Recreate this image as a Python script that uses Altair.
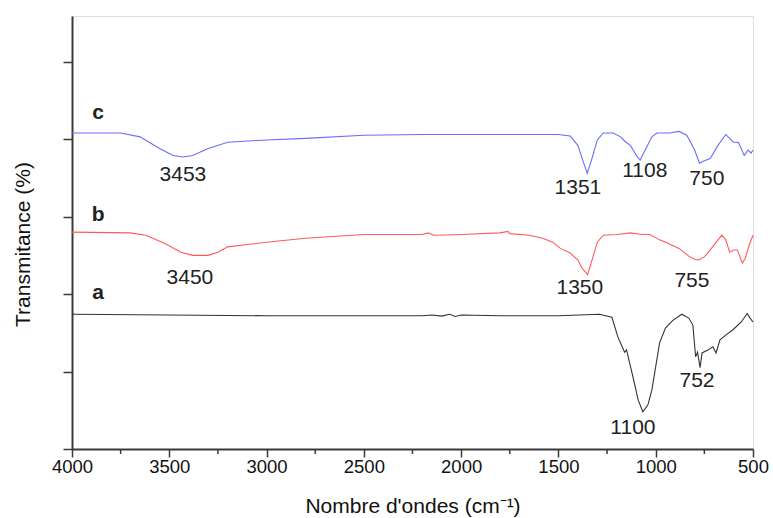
import altair as alt
import pandas as pd

# Spectrum a (black)
wn_a = [4000, 3500, 3000, 2500, 2200, 2150, 2100, 2060, 2030, 2000, 1800, 1500, 1290, 1225, 1195, 1160, 1150,
        1117, 1090, 1066, 1040, 1020, 980, 950, 912, 866, 830, 809, 795, 785, 772, 762, 730, 706, 690,
        670, 640, 603, 560, 530, 515, 500]
t_a = [1.74, 1.73, 1.72, 1.72, 1.72, 1.73, 1.715, 1.74, 1.71, 1.73, 1.72, 1.72, 1.74, 1.70, 1.45, 1.25, 1.28,
       0.93, 0.63, 0.48, 0.57, 0.76, 1.37, 1.56, 1.66, 1.74, 1.69, 1.60, 1.19, 1.25, 1.05, 1.24, 1.28, 1.32, 1.24,
       1.41, 1.47, 1.54, 1.64, 1.75, 1.69, 1.64]

# Spectrum b (red)
wn_b = [4000, 3700, 3620, 3520, 3440, 3380, 3300, 3250, 3200, 3000, 2800, 2500, 2200, 2170, 2140, 2000,
        1800, 1760, 1750, 1650, 1580, 1530, 1490, 1440, 1400, 1380, 1350, 1320, 1300, 1270, 1200, 1130,
        1070, 1030, 980, 940, 880, 830, 800, 780, 750, 720, 680, 660, 640, 620, 600, 580, 555, 540, 520, 500]
t_b = [2.80, 2.79, 2.76, 2.65, 2.54, 2.50, 2.50, 2.54, 2.61, 2.67, 2.72, 2.77, 2.77, 2.79, 2.76, 2.77,
       2.79, 2.81, 2.78, 2.76, 2.72, 2.67, 2.59, 2.53, 2.44, 2.34, 2.25, 2.50, 2.67, 2.76, 2.77, 2.79,
       2.77, 2.77, 2.70, 2.66, 2.59, 2.49, 2.45, 2.44, 2.48, 2.57, 2.70, 2.76, 2.70, 2.54, 2.57, 2.57, 2.40,
       2.46, 2.63, 2.76]

# Spectrum c (blue)
wn_c = [4000, 3750, 3650, 3550, 3480, 3430, 3380, 3300, 3200, 3000, 2800, 2500, 2200, 2000, 1700, 1500,
        1440, 1400, 1370, 1352, 1330, 1300, 1270, 1220, 1180, 1158, 1130, 1100, 1080, 1050, 1020, 994,
        930, 880, 840, 800, 775, 750, 720, 680, 640, 620, 600, 575, 545, 525, 510, 500]
t_c = [4.08, 4.08, 4.03, 3.88, 3.79, 3.77, 3.79, 3.88, 3.96, 3.99, 4.01, 4.05, 4.06, 4.06, 4.06, 4.06,
       4.04, 3.92, 3.69, 3.56, 3.73, 3.99, 4.08, 4.08, 4.03, 3.97, 3.92, 3.79, 3.73, 3.88, 4.03, 4.08,
       4.08, 4.10, 4.05, 3.86, 3.69, 3.72, 3.75, 3.92, 4.06, 4.01, 3.96, 3.96, 3.79, 3.86, 3.82, 3.86]

series_names = ["a", "b", "c"]
series_colors = ["#333333", "#ff5a5a", "#6b6bff"]

# Peak annotations
peak_text = ["3453", "3450", "1351", "1108", "750", "1350", "755", "752", "1100"]
peak_x = [3430, 3394, 1400, 1056, 737, 1390, 814, 788, 1117]
peak_y = [3.54, 2.21, 3.37, 3.59, 3.48, 2.08, 2.17, 0.88, 0.27]

# Curve letters
letter_text = ["c", "b", "a"]
letter_x = [3866, 3866, 3866]
letter_y = [4.34, 3.02, 2.01]

# Axis ticks
major_ticks = [4000, 3500, 3000, 2500, 2000, 1500, 1000, 500]
minor_ticks = [3750, 3250, 2750, 2250, 1750, 1250, 750]
y_ticks = [0, 1, 2, 3, 4, 5]

YMAX = 5.59
rows = []
for name, wn, t in [("a", wn_a, t_a), ("b", wn_b, t_b), ("c", wn_c, t_c)]:
    for w, v in zip(wn, t):
        rows.append({"wn": w, "t": v, "s": name})
df = pd.DataFrame(rows)
peaks = pd.DataFrame({"wn": peak_x, "t": peak_y, "txt": peak_text})
letters = pd.DataFrame({"wn": letter_x, "t": letter_y, "txt": letter_text})
# minor tick marks hang 5 px below the axis line (5 px = 5/433 of the y range)
minor_df = pd.DataFrame({"wn": minor_ticks})
minor_df["y0"] = 0.0
minor_df["y1"] = -5.0 / 433 * YMAX

FRAME = "#3a3a3a"
FONT = "Liberation Sans"

xscale = alt.Scale(domain=[500, 4000], reverse=True, nice=False, zero=False)
yscale = alt.Scale(domain=[0, YMAX], nice=False, zero=False)

xaxis = alt.Axis(values=major_ticks, format="d", labelFlush=False,
                 title="Nombre d'ondes (cm⁻¹)", labelFontSize=18.5, titleFontSize=21,
                 labelPadding=0, titleY=63, titleBaseline="alphabetic",
                 tickSize=8, tickColor=FRAME,
                 domainColor=FRAME, domainWidth=2, tickWidth=1.5, grid=False,
                 labelColor="#111111", titleColor="#111111", titleFontWeight="normal",
                 labelFont=FONT, titleFont=FONT)
yaxis = alt.Axis(values=y_ticks, labels=False, title="Transmitance (%)",
                 titleFontSize=21, titleX=-43, titleY=228, titleBaseline="alphabetic",
                 titleAngle=270, titleAlign="center",
                 tickSize=9, tickColor=FRAME,
                 domainColor=FRAME, domainWidth=2, tickWidth=1.5, grid=False,
                 titleColor="#111111", titleFontWeight="normal", titleFont=FONT)

lines = alt.Chart(df).mark_line(strokeWidth=1.1).encode(
    x=alt.X("wn:Q", scale=xscale, axis=xaxis),
    y=alt.Y("t:Q", scale=yscale, axis=yaxis),
    color=alt.Color("s:N", scale=alt.Scale(domain=series_names, range=series_colors), legend=None),
    order=alt.Order("wn:Q"),
)

minor = alt.Chart(minor_df).mark_rule(color=FRAME, strokeWidth=1.5, clip=False).encode(
    x=alt.X("wn:Q", scale=xscale),
    y=alt.Y("y0:Q", scale=yscale),
    y2="y1:Q",
)

peak_labels = alt.Chart(peaks).mark_text(fontSize=21, font=FONT, color="#222222").encode(
    x=alt.X("wn:Q", scale=xscale), y=alt.Y("t:Q", scale=yscale), text="txt:N"
)
letter_labels = alt.Chart(letters).mark_text(fontSize=21, font=FONT, fontWeight="bold",
                                             color="#222222").encode(
    x=alt.X("wn:Q", scale=xscale), y=alt.Y("t:Q", scale=yscale), text="txt:N"
)

chart = alt.layer(lines, peak_labels, letter_labels, minor).properties(
    width=681, height=433,
    autosize=alt.AutoSizeParams(type="none"),
    padding={"left": 72, "top": 16, "right": 20, "bottom": 69},
).configure_view(stroke=FRAME, strokeWidth=2).configure(background="white")

chart.save("out.html", embed_options={"renderer": "svg", "actions": False})
